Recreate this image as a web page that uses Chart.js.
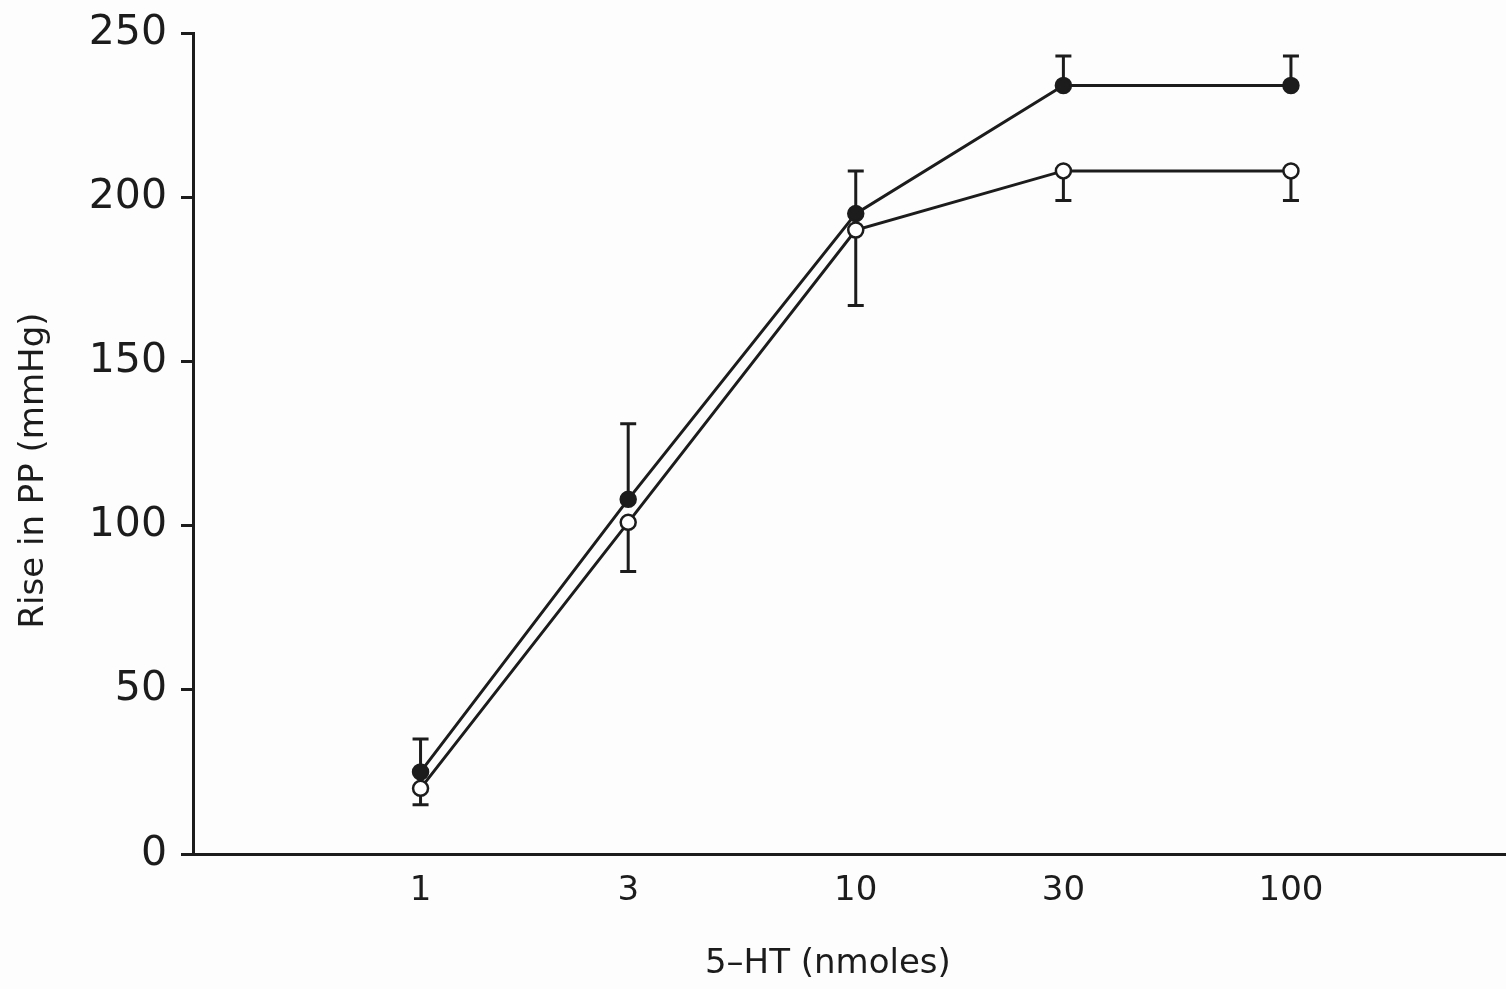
<!DOCTYPE html>
<html lang="en">
  <head>
    <meta charset="UTF-8" />
    <title>5-HT dose response</title>
    <script src="https://cdn.jsdelivr.net/npm/chart.js@4.4.0/dist/chart.umd.min.js"></script>
    <style>
      html, body { margin: 0; padding: 0; background: #fdfdfd; overflow: hidden; }
      #wrap { position: absolute; left: 0; top: 0; width: 1506px; height: 989px; }
    </style>
  </head>
  <body>
    <div id="wrap"><canvas id="myChart"></canvas></div>
    <script>
      // doses (nmoles) and mean rise in PP (mmHg)
      const doses = [1, 3, 10, 30, 100];
      const closedMean = [25, 108, 195, 234, 234];
      const openMean = [20, 101, 190, 208, 208];
      // error bar ends: closed series upward, open series downward
      const closedErrTop = [35, 131, 208, 243, 243];
      const openErrBottom = [15, 86, 167, 199, 199];
      const yTicks = [0, 50, 100, 150, 200, 250];

      const ink = "#1c1c1c";

      function pts(vals) {
        return doses.map((d, i) => ({ x: d, y: vals[i] }));
      }

      // no extra label padding, the plot area is fixed by the axis sizes
      function noPad(s) {
        s.paddingTop = 0;
        s.paddingBottom = 0;
        s.paddingLeft = 0;
        s.paddingRight = 0;
      }

      // vertical error bars with caps, drawn under the markers
      const errorBars = {
        id: "errorBars",
        beforeDatasetsDraw(chart) {
          const ctx = chart.ctx;
          const xs = chart.scales.x, ys = chart.scales.y;
          const sets = [[closedMean, closedErrTop], [openMean, openErrBottom]];
          ctx.save();
          ctx.strokeStyle = ink;
          ctx.lineWidth = 3;
          sets.forEach(([mean, ends]) => {
            doses.forEach((d, i) => {
              const px = xs.getPixelForValue(d);
              const y0 = ys.getPixelForValue(mean[i]);
              const y1 = ys.getPixelForValue(ends[i]);
              ctx.beginPath();
              ctx.moveTo(px, y0);
              ctx.lineTo(px, y1);
              ctx.moveTo(px - 8, y1);
              ctx.lineTo(px + 8, y1);
              ctx.stroke();
            });
          });
          ctx.restore();
        },
      };

      const config = {
        type: "line",
        data: {
          datasets: [
            {
              label: "closed",
              data: pts(closedMean),
              borderColor: ink,
              backgroundColor: ink,
              borderWidth: 3,
              pointRadius: 7.5,
              pointBorderWidth: 2.5,
              pointBackgroundColor: ink,
              pointBorderColor: ink,
              tension: 0,
            },
            {
              label: "open",
              data: pts(openMean),
              borderColor: ink,
              backgroundColor: "#ffffff",
              borderWidth: 3,
              pointRadius: 7.5,
              pointBorderWidth: 2.5,
              pointBackgroundColor: "#ffffff",
              pointBorderColor: ink,
              tension: 0,
            },
          ],
        },
        options: {
          responsive: true,
          maintainAspectRatio: false,
          animation: false,
          layout: { autoPadding: false, padding: { top: 33, right: 0, left: 0, bottom: 0 } },
          plugins: {
            legend: { display: false },
            tooltip: { enabled: false },
          },
          scales: {
            x: {
              type: "logarithmic",
              min: 0.311,
              max: 312,
              afterBuildTicks: (s) => { s.ticks = doses.map((v) => ({ value: v })); },
              afterFit: (s) => { s.height = 135; noPad(s); },
              grid: { display: false, drawTicks: false },
              border: { display: true, color: ink, width: 3 },
              ticks: {
                autoSkip: false,
                maxRotation: 0,
                padding: 17,
                color: ink,
                font: { family: "DejaVu Sans", size: 34 },
                callback: (v) => String(v),
              },
              title: {
                display: true,
                text: "5\u2013HT (nmoles)    ",
                color: ink,
                font: { family: "DejaVu Sans", size: 34 },
                padding: { top: 0, bottom: 4 },
              },
            },
            y: {
              min: 0,
              max: 250,
              afterBuildTicks: (s) => { s.ticks = yTicks.map((v) => ({ value: v })); },
              afterFit: (s) => { s.width = 193; noPad(s); },
              grid: {
                display: true,
                drawOnChartArea: false,
                drawTicks: true,
                tickLength: 12,
                tickColor: ink,
                lineWidth: 3,
              },
              border: { display: true, color: ink, width: 3 },
              ticks: {
                padding: 14,
                color: ink,
                font: { family: "DejaVu Sans", size: 41 },
              },
              title: {
                display: true,
                text: "Rise in PP (mmHg)     ",
                color: ink,
                font: { family: "DejaVu Sans", size: 34 },
                padding: { top: 14, bottom: 0 },
              },
            },
          },
        },
        plugins: [errorBars],
      };

      new Chart(document.getElementById("myChart"), config);
    </script>
  </body>
</html>
